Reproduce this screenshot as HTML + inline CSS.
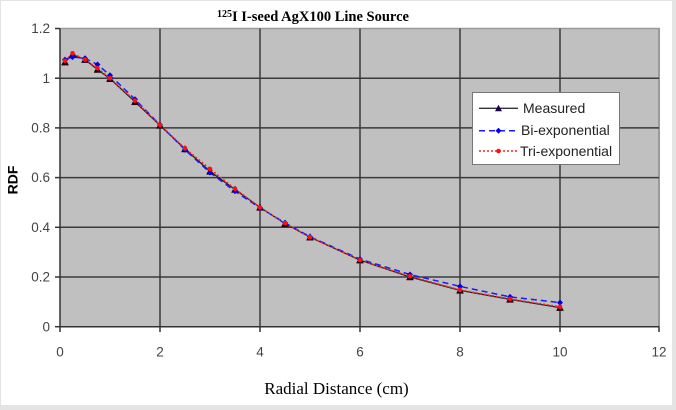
<!DOCTYPE html>
<html><head><meta charset="utf-8"><style>
html,body{margin:0;padding:0;background:#e4e4e4;}
svg{display:block;}
</style></head><body>
<svg width="676" height="410" xmlns="http://www.w3.org/2000/svg" font-family="Liberation Sans, Arial, sans-serif">
<rect x="0" y="0" width="676" height="410" fill="#e4e4e4"/>
<rect x="1" y="1" width="671" height="404" fill="#ffffff"/>
<!-- title -->
<text x="217" y="21" font-family="Liberation Serif, serif" font-weight="bold" font-size="14.5" fill="#000"><tspan font-size="10" dy="-4">125</tspan><tspan dy="4">I I-seed AgX100 Line Source</tspan></text>
<!-- plot area -->
<rect x="60" y="28.5" width="599" height="298.2" fill="#c0c0c0"/>
<line x1="60" y1="28.5" x2="660" y2="28.5" stroke="#9a9a9a" stroke-width="1.5"/>
<line x1="659" y1="28.5" x2="659" y2="326.7" stroke="#9a9a9a" stroke-width="2"/>
<g stroke="#3a3a3a" stroke-width="1.5">
<line x1="60" y1="277" x2="659" y2="277"/>
<line x1="60" y1="227.3" x2="659" y2="227.3"/>
<line x1="60" y1="177.6" x2="659" y2="177.6"/>
<line x1="60" y1="127.9" x2="659" y2="127.9"/>
<line x1="60" y1="78.2" x2="659" y2="78.2"/>
<line x1="160" y1="28.5" x2="160" y2="326.7"/>
<line x1="260" y1="28.5" x2="260" y2="326.7"/>
<line x1="360" y1="28.5" x2="360" y2="326.7"/>
<line x1="460" y1="28.5" x2="460" y2="326.7"/>
<line x1="560" y1="28.5" x2="560" y2="326.7"/>
</g>
<!-- axes -->
<g stroke="#333" stroke-width="1.5">
<line x1="60" y1="28.5" x2="60" y2="327"/>
<line x1="59" y1="326.7" x2="659" y2="326.7"/>
<line x1="55" y1="28.5" x2="60" y2="28.5"/>
<line x1="55" y1="78.2" x2="60" y2="78.2"/>
<line x1="55" y1="127.9" x2="60" y2="127.9"/>
<line x1="55" y1="177.6" x2="60" y2="177.6"/>
<line x1="55" y1="227.3" x2="60" y2="227.3"/>
<line x1="55" y1="277" x2="60" y2="277"/>
<line x1="55" y1="326.7" x2="60" y2="326.7"/>
<line x1="60" y1="326.7" x2="60" y2="332"/>
<line x1="160" y1="326.7" x2="160" y2="332"/>
<line x1="260" y1="326.7" x2="260" y2="332"/>
<line x1="360" y1="326.7" x2="360" y2="332"/>
<line x1="460" y1="326.7" x2="460" y2="332"/>
<line x1="560" y1="326.7" x2="560" y2="332"/>
<line x1="659" y1="326.7" x2="659" y2="332"/>
</g>
<!-- y tick labels -->
<g font-size="13.5" fill="#444" text-anchor="end">
<text x="50" y="33">1.2</text>
<text x="50" y="83">1</text>
<text x="50" y="132.5">0.8</text>
<text x="50" y="182">0.6</text>
<text x="50" y="232">0.4</text>
<text x="50" y="281.5">0.2</text>
<text x="50" y="331.5">0</text>
</g>
<!-- x tick labels -->
<g font-size="13.5" fill="#444" text-anchor="middle">
<text x="60" y="356.5">0</text>
<text x="160" y="356.5">2</text>
<text x="260" y="356.5">4</text>
<text x="360" y="356.5">6</text>
<text x="460" y="356.5">8</text>
<text x="560" y="356.5">10</text>
<text x="659" y="356.5">12</text>
</g>
<text transform="translate(17.5,180) rotate(-90)" text-anchor="middle" font-size="14" font-weight="bold" fill="#000">RDF</text>
<text x="336.5" y="394" text-anchor="middle" font-family="Liberation Serif, serif" font-size="17" fill="#000">Radial Distance (cm)</text>

<!-- series -->
<polyline fill="none" stroke="#202020" stroke-width="1.3" points="65,62.1 72.5,54.6 85,59.6 97.5,69.5 110,78.7 135,101.8 160,125.4 185,149.0 210,171.4 235,189.5 260,207.4 285,223.6 310,237.2 360,260.1 410,277.0 460,290.4 510,299.4 560,307.6"/>
<polyline fill="none" stroke="#1a1aff" stroke-width="1.5" stroke-dasharray="6,4" points="65,59.6 72.5,57.1 85,58.3 97.5,64.5 110,75.2 135,99.3 160,124.9 185,149.8 210,172.6 235,191.3 260,207.9 285,222.8 310,236.7 360,259.1 410,274.5 460,286.4 510,296.9 560,302.6"/>
<polyline fill="none" stroke="#ff2020" stroke-width="1.5" stroke-dasharray="2,2" points="65,60.8 72.5,53.3 85,59.6 97.5,68.3 110,78.2 135,100.6 160,124.9 185,148.3 210,168.9 235,188.8 260,207.4 285,223.3 310,237.2 360,260.1 410,276.3 460,289.9 510,298.9 560,306.8"/>
<!-- markers measured (triangles) -->
<g fill="#1a0010" stroke="#1a0010" stroke-width="0.5">
<path d="M65,58.6 l3.5,6.5 h-7z"/><path d="M72.5,51.1 l3.5,6.5 h-7z"/><path d="M85,56.1 l3.5,6.5 h-7z"/><path d="M97.5,66 l3.5,6.5 h-7z"/><path d="M110,75.2 l3.5,6.5 h-7z"/><path d="M135,98.3 l3.5,6.5 h-7z"/><path d="M160,121.9 l3.5,6.5 h-7z"/><path d="M185,145.5 l3.5,6.5 h-7z"/><path d="M210,167.9 l3.5,6.5 h-7z"/><path d="M235,186 l3.5,6.5 h-7z"/><path d="M260,203.9 l3.5,6.5 h-7z"/><path d="M285,220.1 l3.5,6.5 h-7z"/><path d="M310,233.7 l3.5,6.5 h-7z"/><path d="M360,256.6 l3.5,6.5 h-7z"/><path d="M410,273.5 l3.5,6.5 h-7z"/><path d="M460,286.9 l3.5,6.5 h-7z"/><path d="M510,295.9 l3.5,6.5 h-7z"/><path d="M560,304.1 l3.5,6.5 h-7z"/>
</g>
<!-- markers bi (diamonds) -->
<g fill="#0000ee">
<path d="M65,56.6 l3,3 l-3,3 l-3,-3z"/><path d="M72.5,54.1 l3,3 l-3,3 l-3,-3z"/><path d="M85,55.3 l3,3 l-3,3 l-3,-3z"/><path d="M97.5,61.5 l3,3 l-3,3 l-3,-3z"/><path d="M110,72.2 l3,3 l-3,3 l-3,-3z"/><path d="M135,96.3 l3,3 l-3,3 l-3,-3z"/><path d="M160,121.9 l3,3 l-3,3 l-3,-3z"/><path d="M185,146.8 l3,3 l-3,3 l-3,-3z"/><path d="M210,169.6 l3,3 l-3,3 l-3,-3z"/><path d="M235,188.3 l3,3 l-3,3 l-3,-3z"/><path d="M260,204.9 l3,3 l-3,3 l-3,-3z"/><path d="M285,219.8 l3,3 l-3,3 l-3,-3z"/><path d="M310,233.7 l3,3 l-3,3 l-3,-3z"/><path d="M360,256.1 l3,3 l-3,3 l-3,-3z"/><path d="M410,271.5 l3,3 l-3,3 l-3,-3z"/><path d="M460,283.4 l3,3 l-3,3 l-3,-3z"/><path d="M510,293.9 l3,3 l-3,3 l-3,-3z"/><path d="M560,299.6 l3,3 l-3,3 l-3,-3z"/>
</g>
<!-- markers tri (circles) -->
<g fill="#ff1010">
<circle cx="65" cy="60.8" r="2.3"/><circle cx="72.5" cy="53.3" r="2.3"/><circle cx="85" cy="59.6" r="2.3"/><circle cx="97.5" cy="68.3" r="2.3"/><circle cx="110" cy="78.2" r="2.3"/><circle cx="135" cy="100.6" r="2.3"/><circle cx="160" cy="124.9" r="2.3"/><circle cx="185" cy="148.3" r="2.3"/><circle cx="210" cy="168.9" r="2.3"/><circle cx="235" cy="188.8" r="2.3"/><circle cx="260" cy="207.4" r="2.3"/><circle cx="285" cy="223.3" r="2.3"/><circle cx="310" cy="237.2" r="2.3"/><circle cx="360" cy="260.1" r="2.3"/><circle cx="410" cy="276.3" r="2.3"/><circle cx="460" cy="289.9" r="2.3"/><circle cx="510" cy="298.9" r="2.3"/><circle cx="560" cy="306.8" r="2.3"/>
</g>

<!-- legend -->
<rect x="472.5" y="92.5" width="147" height="72" fill="#ffffff" stroke="#777" stroke-width="1"/>
<line x1="479" y1="108.3" x2="518" y2="108.3" stroke="#333" stroke-width="1.3"/>
<path d="M498.5,104.8 l3.5,6.5 h-7z" fill="#1a0050"/>
<line x1="479" y1="130.7" x2="518" y2="130.7" stroke="#1a1aff" stroke-width="1.5" stroke-dasharray="6,4"/>
<path d="M498.5,127.7 l3,3 l-3,3 l-3,-3z" fill="#0000ee"/>
<line x1="479" y1="151" x2="518" y2="151" stroke="#ff2020" stroke-width="1.5" stroke-dasharray="2,2"/>
<circle cx="498.5" cy="151" r="2.3" fill="#ff1010"/>
<g font-size="14" fill="#222">
<text x="523" y="113">Measured</text>
<text x="521" y="135">Bi-exponential</text>
<text x="520" y="156">Tri-exponential</text>
</g>
</svg>
</body></html>
